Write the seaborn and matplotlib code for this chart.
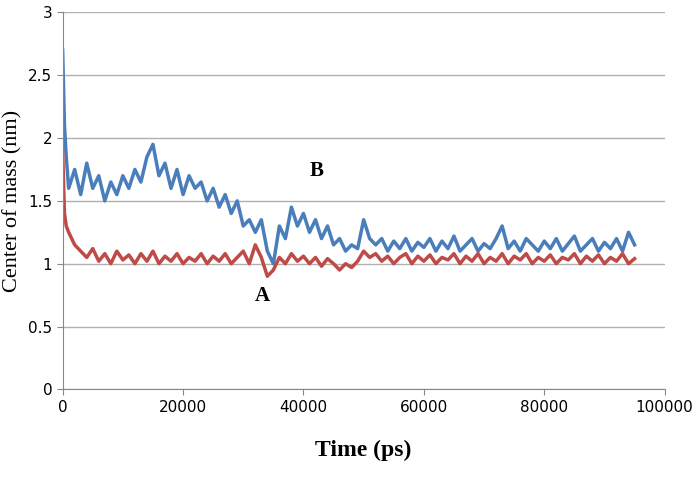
import matplotlib
matplotlib.use("Agg")
import matplotlib.pyplot as plt
import seaborn as sns
import pandas as pd

time_ps = [0, 300, 600] + list(range(1000, 95001, 1000))

series_b = [2.7, 2.1, 1.85,
    1.6, 1.75, 1.55, 1.8, 1.6, 1.7, 1.5, 1.65, 1.55, 1.7,      # 1000-10000
    1.6, 1.75, 1.65, 1.85, 1.95, 1.7, 1.8, 1.6, 1.75, 1.55,    # 11000-20000
    1.7, 1.6, 1.65, 1.5, 1.6, 1.45, 1.55, 1.4, 1.5, 1.3,       # 21000-30000
    1.35, 1.25, 1.35, 1.1, 1.0, 1.3, 1.2, 1.45, 1.3, 1.4,      # 31000-40000
    1.25, 1.35, 1.2, 1.3, 1.15, 1.2, 1.1, 1.15, 1.12, 1.35,    # 41000-50000
    1.2, 1.15, 1.2, 1.1, 1.18, 1.12, 1.2, 1.1, 1.17, 1.13,     # 51000-60000
    1.2, 1.1, 1.18, 1.12, 1.22, 1.1, 1.15, 1.2, 1.1, 1.16,     # 61000-70000
    1.12, 1.2, 1.3, 1.12, 1.18, 1.1, 1.2, 1.15, 1.1, 1.18,     # 71000-80000
    1.12, 1.2, 1.1, 1.16, 1.22, 1.1, 1.15, 1.2, 1.1, 1.17,     # 81000-90000
    1.12, 1.2, 1.1, 1.25, 1.15]                                 # 91000-95000

series_a = [1.9, 1.4, 1.3,
    1.25, 1.15, 1.1, 1.05, 1.12, 1.02, 1.08, 1.0, 1.1, 1.03,   # 1000-10000
    1.07, 1.0, 1.08, 1.02, 1.1, 1.0, 1.06, 1.02, 1.08, 1.0,    # 11000-20000
    1.05, 1.02, 1.08, 1.0, 1.06, 1.02, 1.08, 1.0, 1.05, 1.1,   # 21000-30000
    1.0, 1.15, 1.05, 0.9, 0.95, 1.05, 1.0, 1.08, 1.02, 1.06,   # 31000-40000
    1.0, 1.05, 0.98, 1.04, 1.0, 0.95, 1.0, 0.97, 1.02, 1.1,    # 41000-50000
    1.05, 1.08, 1.02, 1.06, 1.0, 1.05, 1.08, 1.0, 1.06, 1.02,  # 51000-60000
    1.07, 1.0, 1.05, 1.03, 1.08, 1.0, 1.06, 1.02, 1.08, 1.0,   # 61000-70000
    1.05, 1.02, 1.08, 1.0, 1.06, 1.03, 1.08, 1.0, 1.05, 1.02,  # 71000-80000
    1.07, 1.0, 1.05, 1.03, 1.08, 1.0, 1.06, 1.02, 1.07, 1.0,   # 81000-90000
    1.05, 1.02, 1.08, 1.0, 1.04]                                # 91000-95000

df = pd.DataFrame({"t": time_ps * 2, "v": series_b + series_a,
                   "s": ["B"] * len(time_ps) + ["A"] * len(time_ps)})

fig, ax = plt.subplots(figsize=(6.96, 4.96), dpi=100)
fig.subplots_adjust(left=0.09, right=0.955, top=0.975, bottom=0.215)
sns.lineplot(data=df, x="t", y="v", hue="s", palette={"B": "#4a7ebb", "A": "#be4b48"},
             hue_order=["B", "A"], linewidth=2.5, ax=ax, legend=False)
ax.set_xlim(0, 100000)
ax.set_ylim(0, 3)
ax.set_xticks(range(0, 100001, 20000))
ax.set_yticks([0, 0.5, 1, 1.5, 2, 2.5, 3])
ax.set_yticklabels(["0", "0.5", "1", "1.5", "2", "2.5", "3"])
ax.yaxis.grid(True, color="#b0b0b0", linewidth=1)
ax.set_axisbelow(True)
for s in ["top", "right"]:
    ax.spines[s].set_visible(False)
ax.spines["left"].set_color("#888888")
ax.spines["bottom"].set_color("#888888")
ax.tick_params(labelsize=11, length=4, color="#888888")
ax.set_xlabel("Time (ps)", family="Liberation Serif", fontsize=17, fontweight="bold", labelpad=18)
ax.set_ylabel("Center of mass (nm)", family="Liberation Serif", fontsize=16, labelpad=4)
ax.text(41000, 1.7, "B", family="Liberation Serif", fontsize=15, fontweight="bold")
ax.text(32000, 0.7, "A", family="Liberation Serif", fontsize=15, fontweight="bold")
fig.savefig("out.png")
